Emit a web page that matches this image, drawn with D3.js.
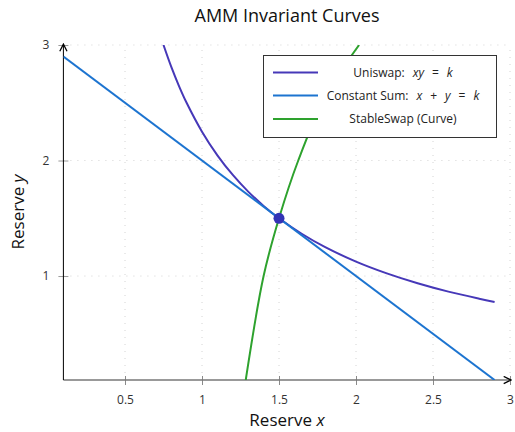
<!DOCTYPE html>
<html><head><meta charset="utf-8">
<script src="https://cdn.jsdelivr.net/npm/d3@7"></script>
<style>body{margin:0;background:#fff}svg{display:block}</style>
</head><body>
<svg id="c" width="515" height="432"></svg>
<script>
const xTicks = [0.5, 1, 1.5, 2, 2.5, 3];
const yTicks = [1, 2, 3];
const uniX = [0.75,0.8,0.85,0.9,1.0,1.1,1.2,1.3,1.4,1.5,1.65,1.8,2.0,2.2,2.4,2.6,2.8,2.9];
const uniY = [3.0,2.8125,2.647,2.5,2.25,2.045,1.875,1.731,1.607,1.5,1.364,1.25,1.125,1.023,0.9375,0.865,0.804,0.776];
const sumX = [0.1, 2.9];
const sumY = [2.9, 0.1];
const ssX = [1.284,1.40,1.5,1.625,1.80,2.02];
const ssY = [0.1,1.0,1.5,2.0,2.55,3.0];
const eqX = [1.5], eqY = [1.5];
// [text, italic, dx before]
const legendLabels = [
  [["Uniswap:",false,0],["xy",true,8],["=",false,8],["k",true,8]],
  [["Constant Sum:",false,0],["x",true,8],["+",false,8],["y",true,8],["=",false,8],["k",true,8]],
  [["StableSwap (Curve)",false,0]]
];
const colors = ["#4638b8", "#1c74d0", "#2ea22e"];
const FONT = "'Open Sans', sans-serif";

const svg = d3.select("#c");
const x = d3.scaleLinear().domain([0.1, 3]).range([63.4, 510]);
const y = d3.scaleLinear().domain([0.1, 3]).range([380, 45]);

// grid
const g = svg.append("g");
g.selectAll(".gx").data(xTicks).enter().append("line")
  .attr("x1", d=>x(d)).attr("x2", d=>x(d)).attr("y1", y(0.1)).attr("y2", y(3))
  .attr("stroke", "#d4d4d4").attr("stroke-dasharray", "1,6");
g.selectAll(".gy").data(yTicks).enter().append("line")
  .attr("x1", x(0.1)).attr("x2", x(3)).attr("y1", d=>y(d)).attr("y2", d=>y(d))
  .attr("stroke", "#d4d4d4").attr("stroke-dasharray", "1,6");

// axes
const xa = svg.append("g").attr("transform", `translate(0,${y(0.1)})`)
  .call(d3.axisBottom(x).tickValues(xTicks).tickSize(0).tickFormat(d3.format("")));
xa.select(".domain").remove();
xa.selectAll("text").attr("dy", null).attr("y", 24).attr("fill", "#333")
  .style("font-family", FONT).style("font-size", "12px");
xa.selectAll(".tick").append("line").attr("y1", -4).attr("y2", 5).attr("stroke", "#8a8a8a");

const ya = svg.append("g").attr("transform", `translate(${x(0.1)},0)`)
  .call(d3.axisLeft(y).tickValues(yTicks).tickSize(0).tickFormat(d3.format("")));
ya.select(".domain").remove();
ya.selectAll("text").attr("x", -14).attr("fill", "#333")
  .style("font-family", FONT).style("font-size", "12px");
ya.selectAll(".tick").append("line").attr("x1", -5).attr("x2", 5).attr("stroke", "#9a9a9a");

// axis lines with arrows
const defs = svg.append("defs");
defs.append("marker").attr("id","arr").attr("viewBox","0 0 10 10").attr("refX",8).attr("refY",5)
  .attr("markerWidth",9).attr("markerHeight",9).attr("markerUnits","userSpaceOnUse").attr("orient","auto")
  .append("path").attr("d","M1,1 L9,5 L1,9").attr("fill","none").attr("stroke","#000").attr("stroke-width",1.4);
svg.append("line").attr("x1", x(0.1)).attr("x2", x(3)).attr("y1", y(0.1)).attr("y2", y(0.1))
  .attr("stroke", "#777").attr("stroke-width", 1.6).attr("marker-end","url(#arr)");
svg.append("line").attr("x1", x(0.1)).attr("x2", x(0.1)).attr("y1", y(0.1)).attr("y2", y(3))
  .attr("stroke", "#000").attr("stroke-width", 1).attr("marker-end","url(#arr)");

// clip
defs.append("clipPath").attr("id","clip").append("rect")
  .attr("x", x(0.1)).attr("y", y(3)).attr("width", x(3)-x(0.1)).attr("height", y(0.1)-y(3));
const plot = svg.append("g").attr("clip-path","url(#clip)");
const line = d3.line().x(d=>x(d[0])).y(d=>y(d[1])).curve(d3.curveCatmullRom.alpha(0.5));
const series = [d3.zip(uniX, uniY), d3.zip(sumX, sumY), d3.zip(ssX, ssY)];
plot.selectAll(".s").data(series).enter().append("path")
  .attr("d", line).attr("fill","none").attr("stroke",(d,i)=>colors[i]).attr("stroke-width",2);
svg.selectAll(".pt").data(d3.zip(eqX, eqY)).enter().append("circle")
  .attr("cx", d=>x(d[0])).attr("cy", d=>y(d[1])).attr("r", 5.5).attr("fill", "#3333b5");

// legend
const lg = svg.append("g");
lg.append("rect").attr("x", 263.5).attr("y", 55.5).attr("width", 233).attr("height", 82)
  .attr("fill","#fff").attr("stroke","#333").attr("stroke-width",1);
const rowsY = [72.5, 95.5, 119];
legendLabels.forEach((parts, i) => {
  lg.append("line").attr("x1", 273).attr("x2", 318).attr("y1", rowsY[i]).attr("y2", rowsY[i])
    .attr("stroke", colors[i]).attr("stroke-width", 2);
  const t = lg.append("text").attr("x", 403).attr("y", rowsY[i]).attr("dy","0.35em")
    .attr("text-anchor","middle").attr("fill","#222")
    .style("font-family", FONT).style("font-size","12px");
  parts.forEach(p => t.append("tspan").attr("dx", p[2]).text(p[0]).style("font-style", p[1] ? "italic" : "normal"));
});

// titles
svg.append("text").attr("x", 287).attr("y", 16).attr("dy","0.35em").attr("text-anchor","middle")
  .attr("fill","#111").style("font-family", FONT).style("font-size","18px").text("AMM Invariant Curves");
const xl = svg.append("text").attr("x", 287).attr("y", 425.5).attr("text-anchor","middle")
  .attr("fill","#111").style("font-family", FONT).style("font-size","17px");
xl.append("tspan").text("Reserve ");
xl.append("tspan").text("x").style("font-style","italic");
const yl = svg.append("text").attr("transform","translate(18,212) rotate(-90)").attr("dy","0.35em")
  .attr("text-anchor","middle").attr("fill","#111").style("font-family", FONT).style("font-size","17px");
yl.append("tspan").text("Reserve ");
yl.append("tspan").text("y").style("font-style","italic");
</script>
</body></html>
